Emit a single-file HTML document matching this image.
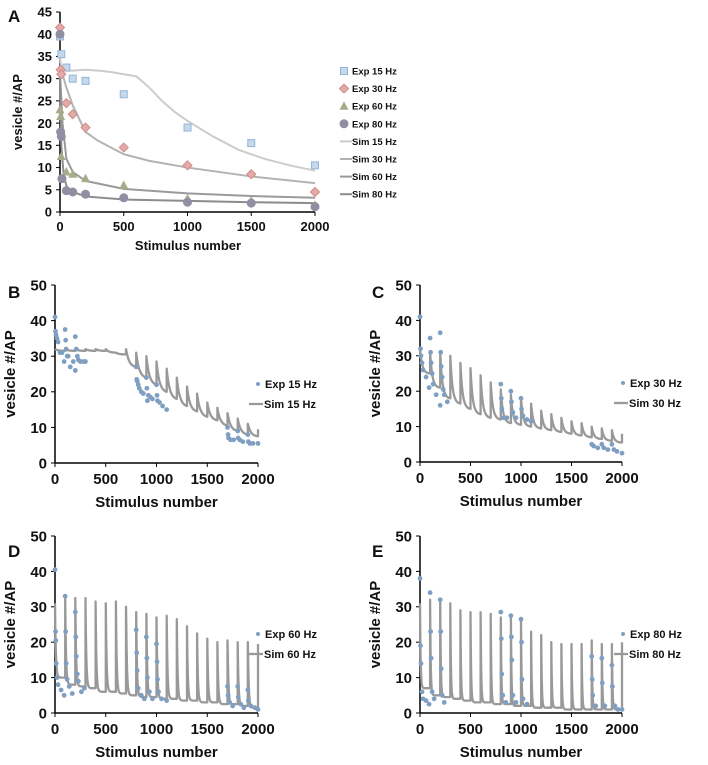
<!DOCTYPE html>
<html><head><meta charset="utf-8"><style>
body{margin:0;background:#fff;}
svg{display:block;font-family:"Liberation Sans",sans-serif;font-weight:bold;}
</style></head><body>
<svg id="fig" width="708" height="765" viewBox="0 0 708 765"></svg>
<script>
// ---------- Panel A data ----------
const aExpX15=[0,10,50,100,200,500,1000,1500,2000];
const aExpY15=[39.5,35.5,32.5,30,29.5,26.5,19,15.5,10.5];
const aExpX30=[0,5,10,50,100,200,500,1000,1500,2000];
const aExpY30=[41.5,32,31,24.5,22,19,14.5,10.5,8.5,4.5];
const aExpX60=[0,5,10,50,100,200,500,1000,1500,2000];
const aExpY60=[23,21.5,12.5,9,8.5,7.5,6,3,2.5,1.5];
const aExpX80=[0,5,10,15,50,100,200,500,1000,1500,2000];
const aExpY80=[40,18,17,7.5,4.8,4.5,4,3.2,2.2,2,1.2];
const aSimX15=[0,10,50,100,200,300,400,500,600,700,800,900,1000,1200,1400,1600,1800,2000];
const aSimY15=[35,32,31.8,31.8,32,31.8,31.5,31,30.5,28,25,22.5,20.5,17,14,12,10.5,9.3];
const aSimX30=[0,20,50,100,200,300,500,700,1000,1500,2000];
const aSimY30=[32,31,28,24,18,16,13,11.5,10,8,6.5];
const aSimX60=[0,20,50,100,200,500,1000,1500,2000];
const aSimY60=[31,20,12,9,7,5.2,4.2,3.6,3.2];
const aSimX80=[0,10,30,60,100,200,500,1000,1500,2000];
const aSimY80=[31,15,8,5,4.5,3.5,2.8,2.5,2.2,2];
const aYTicks=[0,5,10,15,20,25,30,35,40,45];
const xTicks=[0,500,1000,1500,2000];
const yTicks50=[0,10,20,30,40,50];

// ---------- Sim sawtooth data (per 100-stimulus segment) ----------
const bPeaks=[32,32,32,32,32,32,31,32,31,30,28.5,26.5,24,21.5,19.5,17,15.5,14,12.5,11,9.5];
const bTroughs=[31.5,31.5,31.5,31.5,31.5,31,30.5,27,24,22,20,18,16,14.5,13,12,10.5,9,8,7.5];
const cPeaks=[32,31,31,30,28,26.5,24.5,22.5,20.5,19,18,16.5,14.5,13.5,12.5,11.5,11,10,9.5,9,8];
const cTroughs=[25,21,18,16.5,15,13.5,12.5,12,11,10.5,10,9.5,9,8.5,8,7.5,7,6.5,6,5.5];
const dPeaks=[31,32.5,32.5,32.5,31.5,31,31.5,30,28.5,28,27,27.5,26.5,24.5,22.5,21,20,20.5,20,20,19.5];
const dTroughs=[10,8,7.5,7,6,6,5.5,5,4.5,4.5,4,4,3.5,3.5,3,3,2.5,2.5,2,1.5];
const ePeaks=[31,32,32,31,29,28.5,28.5,28,27,27,26,23,22,20,19.5,19.5,19.5,20.5,19.5,19.5,20];
const eTroughs=[7,5,4.5,4,3.5,3,3,2.5,2.5,2,2,1.5,1.5,1.5,1,1,1,1,1,1];

// ---------- Exp data for panels B-E ----------
const bExpX=[0,5,10,20,30,50,70,90,100,105,110,120,130,150,180,200,200,210,220,230,250,280,300,800,805,810,820,830,850,870,900,905,910,920,940,960,1000,1005,1010,1030,1060,1100,1700,1705,1710,1730,1760,1800,1805,1820,1850,1900,1905,1920,1950,2000];
const bExpY=[41,37,36,35,34,31,31,28.5,37.5,34.5,32,30,30,27,28.5,26,35.5,32,30,29,28.5,28.5,28.5,27,23.5,23,22,21,20,19.5,24,21,17.5,19,18.5,18,22,19,17.5,17,16,15,10,8,7,6.5,6.5,9,7,6.5,6,8,6,5.5,5.5,5.5];
const cExpX=[0,5,10,20,30,60,90,100,105,110,120,130,160,200,205,210,220,230,240,270,200,800,805,810,830,860,900,905,920,950,1000,1005,1020,1060,1100,1700,1720,1760,1800,1820,1860,1900,1920,1950,2000];
const cExpY=[41,32,30,28,26,24,21,35,31,28,25,22,19,36.5,31,27,24,20.5,19,17,16,22,18,15,12.5,12.5,20,17,14,12.5,18,15,13,12,11.5,5,4.5,4,5,4,3.5,5,3.5,3,2.5];
const dExpX=[0,5,8,12,20,30,60,90,100,105,110,120,140,170,200,205,210,220,230,260,290,800,805,810,820,850,880,900,905,910,930,960,1000,1005,1010,1020,1050,1100,1700,1705,1720,1750,1800,1805,1830,1860,1900,1905,1930,1970,2000];
const dExpY=[40.5,23,20.5,14,10,8,6.5,5,33,23,14,9.5,7.5,5.5,28.5,21.5,16,11,9,6,7,23.5,17,12,7,5,4,21.5,15.5,10,6,4,19.5,14.5,9.5,6,4,3.5,7.5,5,3,2,7.5,4.5,2.5,1.5,6.5,3.5,2,1.5,1];
const eExpX=[0,5,10,20,30,60,90,100,105,110,120,140,200,205,210,220,240,800,805,810,820,850,900,905,910,920,950,1000,1005,1010,1020,1060,1700,1705,1710,1740,1800,1805,1830,1900,1905,1930,1960,2000];
const eExpY=[38,19,14,6,4,3.5,2.5,34,23,15.5,6,4,32,23,12.5,5,3,28.5,21,11,5,3,27.5,21.5,15,5,3,26.5,20,9.5,4,2.5,16,9.5,5,2,15.5,8.5,2,13.5,7.5,2,1,1];

const NS="http://www.w3.org/2000/svg";
const svg=document.getElementById('fig');
function mk(tag,attrs,parent){const e=document.createElementNS(NS,tag);for(const k in attrs)e.setAttribute(k,attrs[k]);(parent||svg).appendChild(e);return e;}
function txt(s,x,y,size,anchor,parent,rot){const t=mk('text',{x:x,y:y,'font-size':size,'text-anchor':anchor||'middle',fill:'#111'},parent);if(rot)t.setAttribute('transform','rotate(-90 '+x+' '+y+')');t.textContent=s;return t;}

function axes(g,P,yticks,ymax,tsize){
  const sx=v=>P.x0+(v/2000)*(P.x1-P.x0);
  const sy=v=>P.y0-(v/ymax)*(P.y0-P.y1);
  const ya=mk('line',{x1:P.x0,y1:P.y0,x2:P.x0,y2:P.y1,stroke:'#000','stroke-width':1.5},g);
  
  const xa=mk('line',{x1:P.x0,y1:P.y0,x2:P.x1,y2:P.y0,stroke:'#000','stroke-width':1.5},g);
  
  yticks.forEach(v=>{mk('line',{x1:P.x0-4,x2:P.x0,y1:sy(v),y2:sy(v),stroke:'#000'},g);
    const t=txt(String(v),P.x0-8,sy(v)+tsize*0.36,tsize,'end',g);
    });
  xTicks.forEach(v=>{mk('line',{x1:sx(v),x2:sx(v),y1:P.y0,y2:P.y0+4,stroke:'#000'},g);
    const t=txt(String(v),sx(v),P.y0+tsize+6,tsize,'middle',g);
    });
  return {sx,sy};
}

// ---------- Panel A ----------
(function(){
  const g=mk('g',{});
  
  const P={x0:60,x1:315,y0:212,y1:12};
  const {sx,sy}=axes(g,P,aYTicks,45,13);
  const l=txt('A',8,22,17,'start',g);
  const yt=txt('vesicle #/AP',22,112,13,'middle',g,true);
  const xt=txt('Stimulus number',188,250,13,'middle',g);
  const sims=[[aSimX15,aSimY15,'#cccccc','sim-15hz'],[aSimX30,aSimY30,'#b3b3b3','sim-30hz'],[aSimX60,aSimY60,'#9a9a9a','sim-60hz'],[aSimX80,aSimY80,'#8c8c8c','sim-80hz']];
  sims.forEach(s=>{const p=mk('polyline',{points:s[0].map((x,i)=>sx(x)+','+sy(s[1][i])).join(' '),fill:'none',stroke:s[2],'stroke-width':2},g);
    });
  function marker(type,x,y,gp){
    let m;
    if(type==='sq') m=mk('rect',{x:x-3.5,y:y-3.5,width:7,height:7,fill:'#c6d9ec',stroke:'#95b3d7'},gp);
    else if(type==='di') m=mk('polygon',{points:`${x},${y-4.5} ${x+4.5},${y} ${x},${y+4.5} ${x-4.5},${y}`,fill:'#e3aaa8',stroke:'#d08a88'},gp);
    else if(type==='tr') m=mk('polygon',{points:`${x},${y-5} ${x+4.5},${y+3.5} ${x-4.5},${y+3.5}`,fill:'#a8ab8a'},gp);
    else m=mk('circle',{cx:x,cy:y,r:4.5,fill:'#8f8ea3'},gp);
    return m;
  }
  const exps=[[aExpX15,aExpY15,'sq','exp-15hz'],[aExpX30,aExpY30,'di','exp-30hz'],[aExpX60,aExpY60,'tr','exp-60hz'],[aExpX80,aExpY80,'ci','exp-80hz']];
  exps.forEach(e=>{e[0].forEach((x,i)=>{const m=marker(e[2],sx(x),sy(e[1][i]),g);
    });});
  const legs=[['sq','Exp 15 Hz'],['di','Exp 30 Hz'],['tr','Exp 60 Hz'],['ci','Exp 80 Hz'],['#cccccc','Sim 15 Hz'],['#b3b3b3','Sim 30 Hz'],['#9a9a9a','Sim 60 Hz'],['#8c8c8c','Sim 80 Hz']];
  legs.forEach((L,i)=>{const y=71+i*17.6;const lg=mk('g',{},g);
    
    if(L[0][0]==='#') mk('line',{x1:340,x2:352,y1:y,y2:y,stroke:L[0],'stroke-width':2},lg);
    else marker(L[0],344,y,lg);
    txt(L[1],352,y+3.5,9.5,'start',lg);});
})();

// ---------- Panels B-E ----------
function sawtooth(peaks,troughs,tau){
  const pts=[];
  for(let s=0;s<troughs.length;s++){
    const x0=s*100;
    for(let k=0;k<=100;k+=2){
      const f=Math.exp(-k/tau), f100=Math.exp(-100/tau);
      const v=troughs[s]+(peaks[s]-troughs[s])*(f-f100)/(1-f100);
      pts.push([x0+k,v]);
    }
  }
  pts.push([2000,peaks[troughs.length]]);
  return pts;
}
const panels=[
  {id:'b',label:'B',peaks:bPeaks,troughs:bTroughs,ex:bExpX,ey:bExpY,tau:30,hz:'15',P:{x0:55,x1:258,y0:463,y1:285},lx:8,ly:298,legx:255},
  {id:'c',label:'C',peaks:cPeaks,troughs:cTroughs,ex:cExpX,ey:cExpY,tau:22,hz:'30',P:{x0:420,x1:622,y0:462,y1:285},lx:372,ly:298,legx:620},
  {id:'d',label:'D',peaks:dPeaks,troughs:dTroughs,ex:dExpX,ey:dExpY,tau:8,hz:'60',P:{x0:55,x1:258,y0:713,y1:536},lx:8,ly:557,legx:255},
  {id:'e',label:'E',peaks:ePeaks,troughs:eTroughs,ex:eExpX,ey:eExpY,tau:6,hz:'80',P:{x0:420,x1:622,y0:713,y1:536},lx:372,ly:557,legx:620}
];
panels.forEach(pn=>{
  const g=mk('g',{});
  
  const P=pn.P;
  const {sx,sy}=axes(g,P,yTicks50,50,15);
  const l=txt(pn.label,pn.lx,pn.ly,17,'start',g);
  const cy=(P.y0+P.y1)/2;
  const yt=txt('vesicle #/AP',P.x0-40,cy,15,'middle',g,true);
  const xt=txt('Stimulus number',(P.x0+P.x1)/2,P.y0+44,15,'middle',g);
  const pts=sawtooth(pn.peaks,pn.troughs,pn.tau);
  const line=mk('polyline',{points:pts.map(p=>sx(p[0]).toFixed(1)+','+sy(p[1]).toFixed(1)).join(' '),fill:'none',stroke:'#999','stroke-width':2.3,'stroke-linejoin':'round'},g);
  
  pn.ex.forEach((x,i)=>{const c=mk('circle',{cx:sx(x),cy:sy(pn.ey[i]),r:2.4,fill:'#7f9fc2'},g);
    });
  const ly=P.y0-75;
  const l1=mk('g',{},g);
  mk('circle',{cx:pn.legx+3,cy:ly-4,r:2,fill:'#7f9fc2'},l1);
  txt('Exp '+pn.hz+' Hz',pn.legx+10,ly,11,'start',l1);
  const l2=mk('g',{},g);
  mk('line',{x1:pn.legx-6,x2:pn.legx+8,y1:ly+16,y2:ly+16,stroke:'#999','stroke-width':2.3},l2);
  txt('Sim '+pn.hz+' Hz',pn.legx+9,ly+20,11,'start',l2);
});
</script>
</body></html>
